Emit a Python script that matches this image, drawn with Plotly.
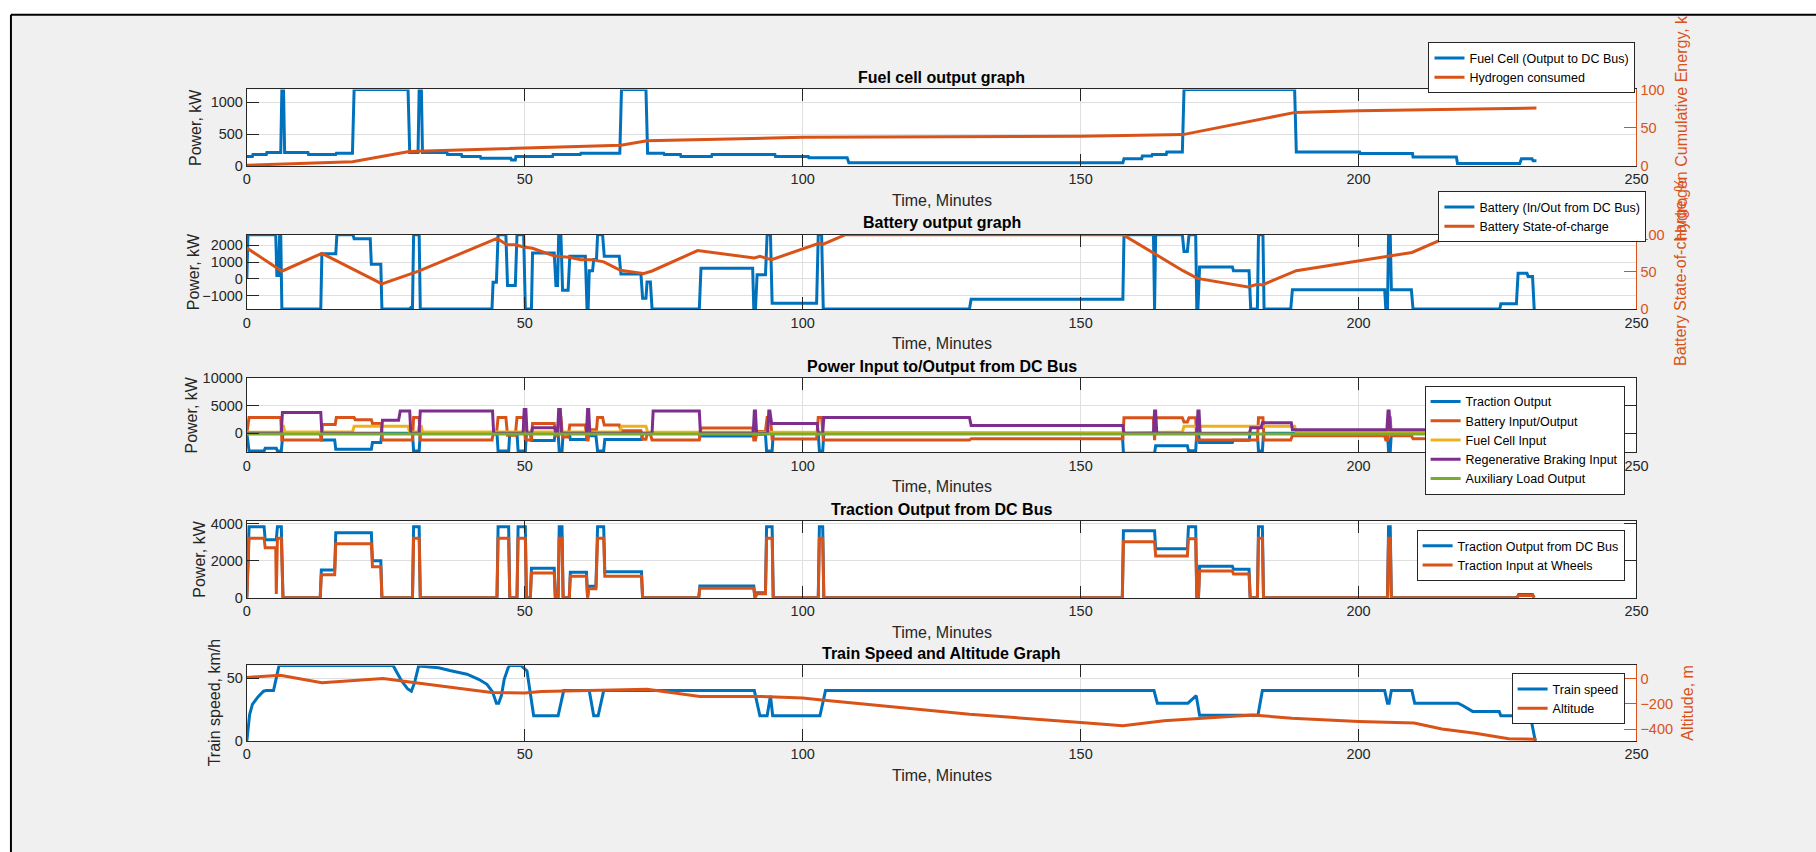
import plotly.graph_objects as go

W, H = 1816, 852

# ---------------- data (time in minutes) ----------------
# Subplot 1: fuel cell output (kW) and hydrogen consumed (%)
fc_time = [0, 1.0, 1.1, 3.5, 3.6, 6.1, 6.3, 6.6, 6.8, 11.0, 11.1, 16.0, 16.1, 19.0, 19.3,
           29.0, 29.3, 30.8, 31.0, 31.4, 31.6, 36.0, 36.1, 38.6, 38.7, 42.0, 42.1, 47.5,
           47.6, 48.3, 48.4, 55.0, 55.1, 60.0, 60.1, 67.1, 67.4, 71.8, 72.1, 75.0, 75.1,
           78.0, 78.1, 83.6, 83.7, 95.0, 95.1, 101.0, 101.1, 108.0, 108.3, 157.6, 157.8,
           161.0, 161.1, 162.8, 162.9, 165.4, 165.5, 168.3, 168.6, 188.5, 188.8, 200.2,
           200.3, 209.7, 209.8, 217.6, 217.8, 229.0, 229.3, 231.2, 231.4, 232.0]
fc_kw = [150, 150, 180, 180, 210, 210, 1200, 1200, 210, 210, 180, 180, 200, 200, 1200,
         1200, 210, 210, 1200, 1200, 210, 210, 180, 180, 150, 150, 120, 120,
         95, 95, 150, 150, 180, 180, 200, 200, 1200, 1200, 200, 200, 180,
         180, 150, 150, 180, 180, 150, 150, 130, 130, 50, 50, 115,
         115, 155, 155, 180, 180, 220, 220, 1200, 1200, 220, 220,
         195, 195, 140, 140, 40, 40, 115, 115, 80, 80]
h2_time = [0, 19, 29.2, 67.3, 72, 100, 150, 168.4, 188.6, 200, 232]
h2_pct = [1, 5.5, 19, 27, 33, 37.5, 39, 41, 70, 72, 75.7]

# Subplot 2: battery power (kW) and state of charge (%)
bat_time = [0, 0.2, 5.2, 5.4, 5.7, 5.9, 6.1, 6.3, 13.3, 13.5,
            16.0, 16.2, 19.1, 19.3, 22.2, 22.4, 24.1, 24.3, 29.3, 29.5,
            29.8, 30.0, 31.0, 31.2, 44.1, 44.3, 44.9, 45.2, 46.6, 46.9,
            48.3, 48.6, 49.8, 50.1, 51.2, 51.4, 55.3, 55.6, 55.9, 56.1,
            56.5, 56.8, 57.8, 58.1, 60.9, 61.2, 61.4, 61.6, 62.2, 62.4,
            62.9, 63.1, 64.0, 64.3, 67.0, 67.3, 70.9, 71.2, 71.8, 72.0,
            72.6, 72.9, 81.4, 81.7, 91.0, 91.2, 91.5, 91.8, 93.3, 93.6,
            94.2, 94.5, 102.5, 102.8, 103.4, 103.7, 130.0, 130.3, 157.6, 157.8,
            163.1, 163.3, 163.5, 168.3, 168.6, 169.2, 169.5, 170.7, 170.9, 171.1,
            171.4, 177.3, 177.5, 180.3, 180.6, 181.8, 182.0, 182.8, 183.0, 187.8,
            188.1, 204.7, 204.9, 205.2, 205.4, 205.7, 205.9, 209.5, 209.8, 225.4,
            225.6, 228.4, 228.7, 230.3, 230.5, 231.3, 231.6]
bat_kw = [0, 2640, 2640, 200, 200, 2640, 2640, -1800, -1800, 1500,
          1500, 2640, 2640, 2400, 2400, 870, 870, -1800, -1800, -1700,
          -1700, 2640, 2640, -1800, -1800, -200, -200, 2640, 2640, -400,
          -400, 2640, 2640, -1800, -1800, 1550, 1550, -400, -400, 2640,
          2640, -680, -680, 1350, 1350, -1800, -1800, 480, 480, 1160,
          1160, 2640, 2640, 1350, 1350, 290, 290, -1160, -1160, -190,
          -190, -1800, -1800, 640, 640, -1800, -1800, 250, 250, 2640,
          2640, -1450, -1450, 2640, 2640, -1800, -1800, -1220, -1220, 2640,
          2640, -1800, 2640, 2640, 1640, 1640, 2640, 2640, -1800, -1800,
          710, 710, 480, 480, -1800, -1800, 2640, 2640, -1800, -1800,
          -640, -640, -1800, -1800, 2640, 2640, -640, -640, -1800, -1800,
          -1490, -1490, 330, 330, 150, 150, -1800]
soc_time = [0, 6.3, 13.5, 24.3, 30.9, 45.0, 46.8, 48.3, 49.8, 51.4, 55.5, 58.0, 60.1,
            62.1, 64.2, 67.2, 70.3, 71.3, 72.9, 81.1, 91.3, 92.3, 94.4, 102.9, 103.6,
            107.7, 157.6, 163.1, 168.4, 171.0, 180.1, 181.8, 182.7, 188.8, 204.9, 209.6,
            217.0, 231.3]
soc_pct = [82, 51, 75, 34, 51, 95, 86.5, 86.5, 83.5, 81.7, 70.9, 69.6, 66.5,
           66.5, 63.5, 52.2, 49.1, 47.8, 51.3, 78.7, 68.7, 70.9, 66.5, 88.3, 87,
           100, 100, 74.8, 51.7, 41.3, 30, 33.5, 32.6, 51.7, 70.4, 76.1,
           100, 99]

# Subplot 4: traction power (kW)
trac_time = [0, 0.4, 3.1, 3.3, 5.2, 5.3, 5.5, 6.2, 6.5, 13.2,
             13.4, 15.8, 16.0, 22.4, 22.6, 24.1, 24.3, 29.8, 30.0, 31.0,
             31.2, 45.0, 45.2, 47.1, 47.3, 48.6, 48.8, 50.1, 50.3, 51.0,
             51.2, 55.3, 55.5, 56.0, 56.2, 56.7, 56.9, 58.0, 58.2, 61.1,
             61.3, 61.5, 62.8, 63.1, 64.2, 64.4, 71.0, 71.2, 81.3, 81.5,
             91.2, 91.4, 91.8, 93.3, 93.5, 94.5, 94.7, 102.8, 103.0, 103.6,
             103.8, 157.5, 157.7, 163.3, 163.5, 169.2, 169.4, 170.7, 170.9, 171.2,
             171.4, 177.3, 177.5, 180.3, 180.5, 181.8, 182.0, 182.7, 182.9, 205.2,
             205.4, 205.7, 205.9, 228.5, 228.8, 231.3, 231.6]
trac_dc_kw = [0, 3850, 3850, 3140, 3140, 3140, 3850, 3850, 0, 0,
              1500, 1500, 3520, 3520, 2000, 2000, 0, 0, 3850, 3850,
              0, 0, 3850, 3850, 0, 0, 3850, 3850, 0, 0,
              1600, 1600, 0, 0, 3850, 3850, 0, 0, 1380, 1380,
              0, 620, 620, 3850, 3850, 1410, 1410, 0, 0, 640,
              640, 0, 270, 270, 3850, 3850, 0, 0, 3850, 3850,
              0, 0, 3630, 3630, 2650, 2650, 3850, 3850, 0, 0,
              1710, 1710, 1540, 1540, 0, 0, 3850, 3850, 0, 0,
              3850, 3850, 0, 0, 170, 170, 0]
trac_wheel_kw = [0, 3230, 3230, 2710, 2710, 200, 3230, 3230, 0, 0,
                 1250, 1250, 2930, 2930, 1680, 1680, 0, 0, 3230, 3230,
                 0, 0, 3230, 3230, 0, 0, 3230, 3230, 0, 0,
                 1340, 1340, 0, 0, 3230, 3230, 0, 0, 1160, 1160,
                 0, 480, 480, 3230, 3230, 1160, 1160, 0, 0, 520,
                 520, 0, 210, 210, 3230, 3230, 0, 0, 3230, 3230,
                 0, 0, 3030, 3030, 2260, 2260, 3200, 3200, 0, 0,
                 1450, 1450, 1280, 1280, 0, 0, 3230, 3230, 0, 0,
                 3230, 3230, 0, 0, 120, 120, 0]

# Subplot 3: power to/from DC bus (kW); traction output plotted as negative
bus_trac_kw = [0, -3230, -3230, -2710, -2710, -2710, -3230, -3230, 0, 0,
               -1250, -1250, -2930, -2930, -1680, -1680, 0, 0, -3230, -3230,
               0, 0, -3230, -3230, 0, 0, -3230, -3230, 0, 0,
               -1340, -1340, 0, 0, -3230, -3230, 0, 0, -1160, -1160,
               0, -480, -480, -3230, -3230, -1160, -1160, 0, 0, -520,
               -520, 0, -210, -210, -3230, -3230, 0, 0, -3230, -3230,
               0, 0, -3630, -3630, -2260, -2260, -3200, -3200, 0, 0,
               -1710, -1710, -1280, -1280, 0, 0, -3230, -3230, 0, 0,
               -3230, -3230, 0, 0, -120, -120, 0]
bus_bat_time = [0, 0.4, 6.1, 6.3, 13.4, 13.6, 15.9, 16.1, 19.3, 19.5, 22.4, 22.6, 24.2, 24.4,
                29.8, 30.0, 31.0, 31.2, 44.1, 44.3, 44.9, 45.2, 46.6, 46.9, 48.3, 48.6, 49.8,
                50.1, 51.2, 51.4, 55.3, 55.6, 55.9, 56.1, 56.5, 56.8, 57.8, 58.1, 60.9, 61.2,
                61.4, 61.6, 62.9, 63.1, 64.0, 64.3, 67.0, 67.3, 70.9, 71.2, 71.8, 72.0, 72.6,
                72.9, 81.4, 81.7, 91.0, 91.2, 91.5, 91.8, 93.3, 93.6, 94.2, 94.5, 102.5, 102.8,
                103.4, 103.7, 130.0, 130.3, 157.6, 157.8, 163.1, 163.3, 163.5, 168.3, 168.6,
                169.2, 169.5, 170.7, 170.9, 180.3, 180.6, 181.8, 182.0, 182.8, 183.0, 187.8,
                188.1, 204.7, 204.9, 205.2, 205.4, 205.7, 205.9, 209.5, 209.8, 225.4, 225.6,
                228.4, 228.7, 231.3, 231.6]
bus_bat_kw = [0, 2840, 2840, -1250, -1250, 1590, 1590, 2840, 2840, 2440, 2440, 1760, 1760, -1250,
              -1250, 2840, 2840, -1250, -1250, -200, -200, 2840, 2840, -400, -400, 2840, 2840,
              -1250, -1250, 1760, 1760, -400, -400, 2840, 2840, -700, -700, 1480, 1480, -1250,
              -1250, 620, 620, 2840, 2840, 1480, 1480, 450, 450, -1100, -1100, -200, -200,
              -1250, -1250, 950, 950, -1250, -1250, 300, 300, 2840, 2840, -1080, -1080, 2840,
              2840, -1250, -1250, -1000, -1000, 2800, 2800, -1250, 2800, 2800, 2020,
              2020, 2800, 2800, -1250, -1250, -1250, -1250, 2800, 2800, -1250, -1250,
              -470, -470, -1250, -1250, 2800, 2800, -470, -470, -1000, -1000, -900,
              -900, 800, 800, -1000]
bus_fc_time = [0, 6.1, 6.3, 6.6, 6.8, 19.0, 19.3, 29.0, 29.3, 30.8, 31.0, 31.4, 31.6, 67.1,
               67.4, 71.8, 72.1, 108.0, 108.3, 157.6, 168.3, 168.6, 188.5, 188.8, 232.0]
bus_fc_kw = [150, 210, 1250, 1250, 210, 200, 1250, 1250, 200, 200, 1250, 1250, 200, 200,
             1250, 1250, 200, 130, 50, 50, 220, 1250, 1250, 220, 80]
bus_regen_time = [0, 6.2, 6.4, 13.3, 13.5, 24.2, 24.4, 27.3, 27.6, 29.3, 29.5, 31.0, 31.2,
                  44.2, 44.4, 49.7, 49.9, 50.2, 50.4, 51.2, 51.4, 55.4, 55.6, 55.9, 56.1,
                  56.4, 56.6, 61.1, 61.3, 61.5, 61.7, 72.9, 73.1, 81.4, 81.6, 91.1, 91.3,
                  91.5, 91.7, 93.7, 93.9, 94.1, 94.4, 102.6, 102.8, 103.6, 103.8, 130.0,
                  130.3, 157.6, 157.8, 163.1, 163.3, 163.5, 163.7, 170.9, 171.1, 171.3,
                  171.5, 180.4, 180.6, 182.5, 182.7, 187.9, 188.1, 205.1, 205.3, 205.5,
                  205.7, 225.0, 225.2, 232.0]
bus_regen_kw = [0, 0, 3750, 3750, 0, 0, 2330, 2330, 4030, 4030, 0, 0, 4030,
                4030, 0, 0, 4300, 4300, 0, 0, 1000, 1000, 0, 0, 4300,
                4300, 0, 0, 4300, 4300, 0, 0, 4030, 4030, 0, 0, 4030,
                4030, 0, 0, 4030, 4030, 1760, 1760, 0, 0, 2840, 2840,
                1400, 1400, 0, 0, 4000, 4000, 0, 0, 4000, 4000,
                0, 0, 1000, 1000, 1900, 1900, 600, 600, 4000, 4000,
                600, 600, 0, 0]
bus_aux_time = [0, 232]
bus_aux_kw = [-150, -150]

# Subplot 5: train speed (km/h) and altitude (m)
spd_time = [0, 0.5, 1, 2, 3, 3.5, 4.8, 5.8, 26.3, 27.8,
            28.9, 29.6, 30.2, 30.9, 32.5, 34.5, 36.5, 39.6, 41.7, 43.2,
            44.2, 44.9, 45.3, 45.8, 46.3, 47.0, 47.3, 49.3, 50.4, 51.2,
            51.6, 56.0, 57.0, 61.6, 62.4, 63.2, 64.2, 91.3, 92.3, 93.6,
            94.2, 94.6, 103.1, 104.1, 163.2, 163.8, 169.3, 170.8, 171.4, 181.9,
            182.7, 204.7, 205.2, 205.5, 205.9, 209.6, 210.1, 217.9, 218.8, 220.5,
            225.3, 225.6, 230.9, 231.8]
spd_kmh = [0, 21, 29, 35, 39.5, 40, 40, 60, 60, 48,
           41.5, 39.5, 46.7, 59.5, 59, 58.2, 56, 53, 49, 45,
           39, 30, 30, 36, 49, 58, 60, 60, 55.6, 30,
           20, 20, 40, 40, 20, 20, 40, 40, 20, 20,
           36, 20, 20, 40, 40, 30, 30, 36, 20.5, 20.5,
           40, 40, 30, 30, 40, 40, 30, 30, 28, 23.5,
           23.5, 20, 20, 0]
alt_time = [0, 6, 13.5, 24.5, 30, 44, 50, 53, 72, 81.5, 92, 100, 103, 115, 130, 150,
            157.6, 165, 181, 188, 200, 210, 215, 221, 227, 232]
alt_m = [8, 26, -33, 0, -31, -110, -115, -102, -85, -141, -141, -154, -167, -218, -282, -346,
         -372, -333, -287, -313, -338, -351, -397, -431, -474, -479]

x_ticks = [0, 50, 100, 150, 200, 250]
bus_ticks = [0, 5000, 10000]
bus_tick_text = ['0', '5000', '10000']

# ---------------- styling ----------------
BLUE, ORANGE, YELLOW, PURPLE, GREEN = '#0072BD', '#D95319', '#EDB120', '#7E2F8E', '#77AC30'
AX, GRID = '#262626', '#dfdfdf'
FONT = 'Liberation Sans, Arial, Helvetica, sans-serif'
TICK_SIZE = 14.5
LABEL_SIZE = 16
TICKF = dict(family=FONT, size=TICK_SIZE, color=AX)
XL, XR = 245, 1647
boxes = [(83, 161), (231, 307), (377, 453), (523, 601), (670, 747)]


def py(p):
    return 1 - p / H


fig = go.Figure()


def add(x, y, color, name, xa, ya, leg):
    fig.add_trace(go.Scatter(x=x, y=y, mode='lines', line=dict(color=color, width=3),
                             name=name, xaxis=xa, yaxis=ya, legend=leg))


add(fc_time, fc_kw, BLUE, 'Fuel Cell (Output to DC Bus)', 'x', 'y', 'legend')
add(h2_time, h2_pct, ORANGE, 'Hydrogen consumed', 'x', 'y2', 'legend')
add(bat_time, bat_kw, BLUE, 'Battery (In/Out from DC Bus)', 'x2', 'y3', 'legend2')
add(soc_time, soc_pct, ORANGE, 'Battery State-of-charge', 'x2', 'y4', 'legend2')
add(trac_time, bus_trac_kw, BLUE, 'Traction Output', 'x3', 'y5', 'legend3')
add(bus_bat_time, bus_bat_kw, ORANGE, 'Battery Input/Output', 'x3', 'y5', 'legend3')
add(bus_fc_time, bus_fc_kw, YELLOW, 'Fuel Cell Input', 'x3', 'y5', 'legend3')
add(bus_regen_time, bus_regen_kw, PURPLE, 'Regenerative Braking Input', 'x3', 'y5', 'legend3')
add(bus_aux_time, bus_aux_kw, GREEN, 'Auxiliary Load Output', 'x3', 'y5', 'legend3')
add(trac_time, trac_dc_kw, BLUE, 'Traction Output from DC Bus', 'x4', 'y6', 'legend4')
add(trac_time, trac_wheel_kw, ORANGE, 'Traction Input at Wheels', 'x4', 'y6', 'legend4')
add(spd_time, spd_kmh, BLUE, 'Train speed', 'x5', 'y7', 'legend5')
add(alt_time, alt_m, ORANGE, 'Altitude', 'x5', 'y8', 'legend5')


def xaxis(anchor):
    return dict(domain=[XL / W, XR / W], anchor=anchor, range=[0, 250], tickvals=x_ticks,
                ticks='inside', ticklen=12, tickcolor=AX, showline=True, linecolor=AX,
                linewidth=1, mirror='ticks', showgrid=True, gridcolor=GRID, zeroline=False,
                tickfont=TICKF)


def yleft(box, rng, tv, anchor, mirror, tt=None):
    top, bot = box
    d = dict(domain=[py(bot), py(top)], anchor=anchor, range=rng, tickvals=tv,
             ticks='inside', ticklen=12, tickcolor=AX, showline=True, linecolor=AX,
             linewidth=1, mirror=mirror, showgrid=True, gridcolor=GRID, zeroline=False,
             tickfont=TICKF)
    if tt is not None:
        d['ticktext'] = tt
    return d


def yright(overlay, anchor, rng, tv):
    return dict(overlaying=overlay, side='right', anchor=anchor, range=rng, tickvals=tv,
                ticks='inside', ticklen=12, tickcolor=ORANGE, showline=True,
                linecolor=ORANGE, linewidth=1, showgrid=False, zeroline=False,
                tickfont=dict(family=FONT, size=TICK_SIZE, color=ORANGE))


def legend(right, top):
    return dict(x=right / W, y=py(top), xanchor='right', yanchor='top', bgcolor='white',
                bordercolor=AX, borderwidth=1, tracegroupgap=0, itemwidth=30,
                font=dict(family=FONT, size=12.5, color='#000000'))


annotations = []
titles = ['Fuel cell output graph', 'Battery output graph', 'Power Input to/Output from DC Bus',
          'Traction Output from DC Bus', 'Train Speed and Altitude Graph']
left_labels = ['Power, kW', 'Power, kW', 'Power, kW', 'Power, kW', 'Train speed, km/h']
left_x = [193, 192, 189, 197, 212]
for (top, bot), t, ll, lx in zip(boxes, titles, left_labels, left_x):
    annotations.append(dict(x=(XL + XR) / 2 / W, y=py(top - 12), xref='paper', yref='paper',
                            text='<b>' + t + '</b>', showarrow=False, yanchor='middle',
                            font=dict(family=FONT, size=LABEL_SIZE, color='#000000')))
    annotations.append(dict(x=(XL + XR) / 2 / W, y=py(bot + 35), xref='paper', yref='paper',
                            text='Time, Minutes', showarrow=False, yanchor='middle',
                            font=dict(family=FONT, size=LABEL_SIZE, color=AX)))
    annotations.append(dict(x=lx / W, y=py((top + bot) / 2), xref='paper', yref='paper',
                            text=ll, showarrow=False, textangle=-90, xanchor='center',
                            yanchor='middle', font=dict(family=FONT, size=LABEL_SIZE, color=AX)))

annotations.append(dict(x=1692 / W, y=py(239), xref='paper', yref='paper',
                        text='Hydrogen Cumulative Energy, k', showarrow=False, textangle=-90,
                        xanchor='center', yanchor='bottom',
                        font=dict(family=FONT, size=LABEL_SIZE, color=ORANGE)))
annotations.append(dict(x=1692 / W, y=py(269), xref='paper', yref='paper',
                        text='Battery State-of-charge, %', showarrow=False, textangle=-90,
                        xanchor='center', yanchor='middle',
                        font=dict(family=FONT, size=LABEL_SIZE, color=ORANGE)))
annotations.append(dict(x=1699 / W, y=py(708), xref='paper', yref='paper',
                        text='Altitude, m', showarrow=False, textangle=-90,
                        xanchor='center', yanchor='middle',
                        font=dict(family=FONT, size=LABEL_SIZE, color=ORANGE)))

shapes = [
    dict(type='rect', xref='paper', yref='paper', x0=-0.01, x1=1.01, y0=py(7), y1=1.01,
         fillcolor='white', line=dict(width=0), layer='below'),
    dict(type='rect', xref='paper', yref='paper', x0=-0.01, x1=7 / W, y0=-0.01, y1=1.01,
         fillcolor='white', line=dict(width=0), layer='below'),
    dict(type='line', xref='paper', yref='paper', x0=7 / W, x1=7 / W, y0=-0.01, y1=py(7),
         line=dict(color='#000000', width=2)),
    dict(type='line', xref='paper', yref='paper', x0=7 / W, x1=1.01, y0=py(7), y1=py(7),
         line=dict(color='#000000', width=2)),
]

fig.update_layout(
    width=W, height=H, autosize=False, margin=dict(l=0, r=0, t=0, b=0),
    paper_bgcolor='#f0f0f0', plot_bgcolor='white', showlegend=True,
    font=dict(family=FONT, color=AX),
    xaxis=xaxis('y'), xaxis2=xaxis('y3'), xaxis3=xaxis('y5'), xaxis4=xaxis('y6'),
    xaxis5=xaxis('y7'),
    yaxis=yleft(boxes[0], [0, 1200], [0, 500, 1000], 'x', False),
    yaxis2=yright('y', 'x', [0, 100], [0, 50, 100]),
    yaxis3=yleft(boxes[1], [-1810, 2640], [-1000, 0, 1000, 2000], 'x2', False),
    yaxis4=yright('y3', 'x2', [0, 100], [0, 50, 100]),
    yaxis5=yleft(boxes[2], [-3500, 10000], bus_ticks, 'x3', 'ticks', bus_tick_text),
    yaxis6=yleft(boxes[3], [0, 4150], [0, 2000, 4000], 'x4', 'ticks'),
    yaxis7=yleft(boxes[4], [0, 60], [0, 50], 'x5', False),
    yaxis8=yright('y7', 'x5', [-492, 103], [-400, -200, 0]),
    legend=legend(1646, 35), legend2=legend(1657, 187), legend3=legend(1635, 385),
    legend4=legend(1635, 532), legend5=legend(1635, 678),
    annotations=annotations, shapes=shapes,
)

fig.write_html('out.html')
